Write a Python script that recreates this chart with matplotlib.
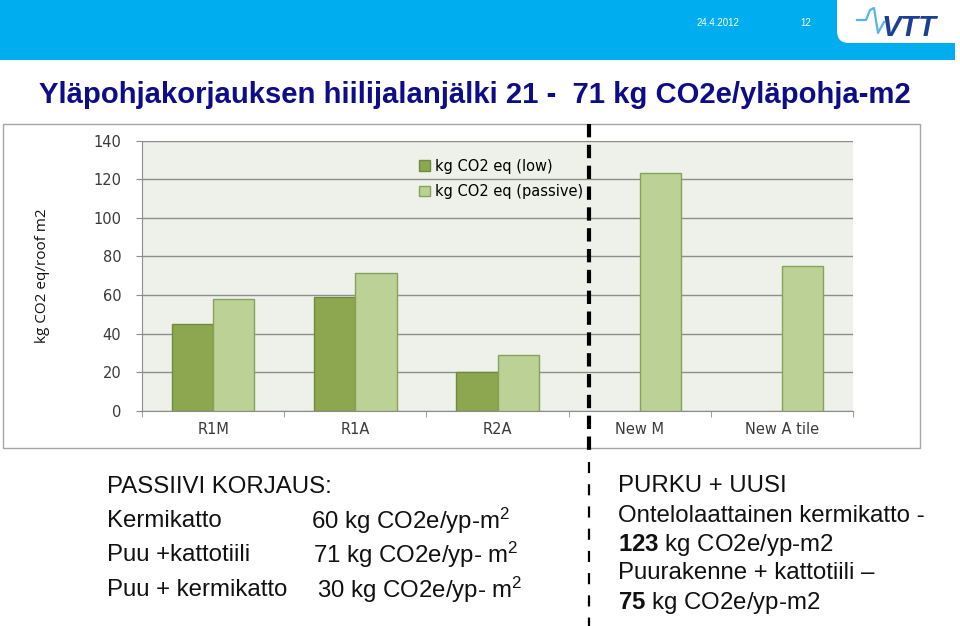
import matplotlib
matplotlib.use("Agg")
import matplotlib.pyplot as plt
from matplotlib.patches import Rectangle, FancyBboxPatch
import numpy as np

# ---- data ----
categories = ["R1M", "R1A", "R2A", "New M", "New A tile"]
low_values = [45, 59, 20, None, None]
passive_values = [58, 71.5, 29, 123, 75]
series_labels = ["kg CO2 eq (low)", "kg CO2 eq (passive)"]
y_ticks = [0, 20, 40, 60, 80, 100, 120, 140]
y_label = "kg CO2 eq/roof m2"
title = "Yläpohjakorjauksen hiilijalanjälki 21 -  71 kg CO2e/yläpohja-m2"
left_header = "PASSIIVI KORJAUS:"
left_rows = [("Kermikatto", "60 kg CO2e/yp-m$^2$"),
             ("Puu +kattotiili", "71 kg CO2e/yp- m$^2$"),
             ("Puu + kermikatto", "30 kg CO2e/yp- m$^2$")]
right_lines = ["PURKU + UUSI",
               "Ontelolaattainen kermikatto -",
               r"$\mathbf{123}$ kg CO2e/yp-m2",
               "Puurakenne + kattotiili –",
               r"$\mathbf{75}$ kg CO2e/yp-m2"]

plt.rcParams["mathtext.fontset"] = "custom"
plt.rcParams["mathtext.rm"] = "Liberation Sans"
plt.rcParams["mathtext.it"] = "Liberation Sans:italic"
plt.rcParams["mathtext.bf"] = "Liberation Sans:bold"

W, H = 960, 626
fig = plt.figure(figsize=(W / 100, H / 100), dpi=100)

# background overlay in pixel coords
bg = fig.add_axes([0, 0, 1, 1], zorder=0)
bg.set_xlim(0, W)
bg.set_ylim(H, 0)
bg.axis("off")

blue = "#00AEEF"
bg.add_patch(Rectangle((0, 0), 955, 60, color=blue, lw=0))
bg.add_patch(FancyBboxPatch((837, -20), 140, 63, boxstyle="round,pad=0,rounding_size=12",
                            color="white", lw=0))
bg.text(718, 23, "24.4.2012", color="white", fontsize=7, ha="center", va="center",
        family="Liberation Sans")
bg.text(806, 23, "12", color="white", fontsize=7, ha="center", va="center",
        family="Liberation Sans")
# VTT logo (approximation)
bg.plot([857, 866, 870, 874, 878, 884], [20, 20, 10, 8, 33, 22], color="#5AB4E5", lw=1.6)
bg.text(909, 28, "VTT", color="#1B3F94", fontsize=21, fontweight="bold", style="italic",
        ha="center", va="center", family="Liberation Sans")

bg.text(475, 95, title, color="#0D0D8A", fontsize=21.1, fontweight="bold",
        ha="center", va="center", family="Liberation Sans")

# chart frame
bg.add_patch(Rectangle((3, 124), 917, 323.5, facecolor="white", edgecolor="#A6A6A6", lw=1))

# bottom text
fs = 17.3
tc = "#111111"
bg.text(107, 487, left_header, fontsize=fs, va="center", family="Liberation Sans", color=tc)
row_y = [521, 555, 590]
val_x = [311, 313, 317]
for (name, val), y, vx in zip(left_rows, row_y, val_x):
    bg.text(107, y, name, fontsize=fs, va="center", family="Liberation Sans", color=tc)
    bg.text(vx, y, val, fontsize=fs, va="center", family="Liberation Sans", color=tc)
for txt, y in zip(right_lines, [486, 516, 545, 573, 603]):
    bg.text(618, y, txt, fontsize=fs, va="center", family="Liberation Sans", color=tc)

# chart axes
ax_l, ax_r, ax_t, ax_b = 142, 853, 140.7, 410.7
ax = fig.add_axes([ax_l / W, 1 - ax_b / H, (ax_r - ax_l) / W, (ax_b - ax_t) / H], zorder=1)
ax.set_facecolor("#EEF1E9")
x = np.arange(len(categories))
bw = 0.29
low_x = [xi - bw / 2 for xi, v in zip(x, low_values) if v is not None]
low_h = [v for v in low_values if v is not None]
ax.bar(low_x, low_h, width=bw, color="#8CA750", edgecolor="#6F8C3E", lw=1, zorder=3,
       label=series_labels[0])
ax.bar(x + bw / 2, passive_values, width=bw, color="#BBD196", edgecolor="#86A35A", lw=1,
       zorder=3, label=series_labels[1])
ax.set_xlim(-0.5, len(categories) - 0.5)
ax.set_ylim(0, 140)
ax.set_yticks(y_ticks)
ax.yaxis.grid(True, color="#8C8C8C", lw=1)
ax.set_axisbelow(True)
for s in ["top", "right"]:
    ax.spines[s].set_visible(False)
for s in ["left", "bottom"]:
    ax.spines[s].set_color("#8C8C8C")
tick_font = "DejaVu Sans"
ax.set_xticks(x)
ax.set_xticklabels(categories, family=tick_font, fontsize=10.5, color="#3A3A3A")
ax.set_xticks(np.arange(-0.5, len(categories)), minor=True)
ax.tick_params(axis="x", which="major", length=0, pad=8)
ax.tick_params(axis="x", which="minor", length=4, color="#8C8C8C")
ax.tick_params(axis="y", length=4, color="#8C8C8C", labelcolor="#3A3A3A", pad=11)
for lab in ax.get_yticklabels():
    lab.set_family(tick_font)
    lab.set_fontsize(10.5)
ax.set_ylabel(y_label, family="Open Sans", fontsize=11, color="#111111", labelpad=31)

ax.legend(loc="upper left", bbox_to_anchor=(413 / W, 1 - 153 / H), bbox_transform=fig.transFigure,
          frameon=False, prop={"family": tick_font, "size": 10.5}, handlelength=0.75,
          handleheight=0.75, handletextpad=0.35, labelspacing=0.7, borderaxespad=0)

# dashed separator
fg = fig.add_axes([0, 0, 1, 1], zorder=2)
fg.set_xlim(0, W)
fg.set_ylim(H, 0)
fg.axis("off")
fg.plot([589, 589], [124, 452], color="black", lw=3, dashes=(3.2, 1.8))
fg.plot([589, 589], [462, 626], color="black", lw=1.6, dashes=(5, 5))

fig.savefig("out.png", dpi=100)
